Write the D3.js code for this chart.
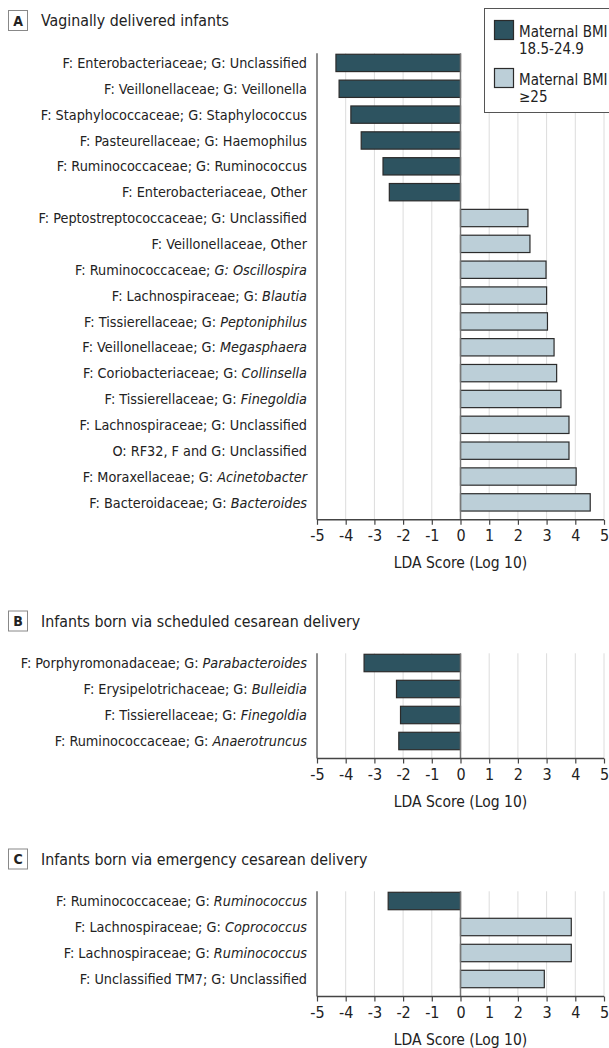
<!DOCTYPE html>
<html>
<head>
<meta charset="utf-8">
<script src="https://cdn.jsdelivr.net/npm/d3@7"></script>
<style>
  html, body { margin: 0; padding: 0; background: #fff; }
  svg { display: block; }
  text { font-family: "Liberation Sans Narrow", "DejaVu Sans Condensed", "Noto Sans", sans-serif; fill: #222; }
</style>
</head>
<body>
<svg id="chart" width="609" height="1048"></svg>
<script>
// ---- data ----
const panelTitles = ["Vaginally delivered infants", "Infants born via scheduled cesarean delivery", "Infants born via emergency cesarean delivery"];
const panelLetters = ["A", "B", "C"];

// label = [regular part, italic part]
const labelsA = [
  ["F: Enterobacteriaceae; G: Unclassified", ""],
  ["F: Veillonellaceae; G: Veillonella", ""],
  ["F: Staphylococcaceae; G: Staphylococcus", ""],
  ["F: Pasteurellaceae; G: Haemophilus", ""],
  ["F: Ruminococcaceae; G: Ruminococcus", ""],
  ["F: Enterobacteriaceae, Other", ""],
  ["F: Peptostreptococcaceae; G: Unclassified", ""],
  ["F: Veillonellaceae, Other", ""],
  ["F: Ruminococcaceae; ", "G: Oscillospira"],
  ["F: Lachnospiraceae; G: ", "Blautia"],
  ["F: Tissierellaceae; G: ", "Peptoniphilus"],
  ["F: Veillonellaceae; G: ", "Megasphaera"],
  ["F: Coriobacteriaceae; G: ", "Collinsella"],
  ["F: Tissierellaceae; G: ", "Finegoldia"],
  ["F: Lachnospiraceae; G: Unclassified", ""],
  ["O: RF32, F and G: Unclassified", ""],
  ["F: Moraxellaceae; G: ", "Acinetobacter"],
  ["F: Bacteroidaceae; G: ", "Bacteroides"]
];
const valuesA = [-4.34, -4.23, -3.82, -3.46, -2.70, -2.48, 2.35, 2.42, 2.98, 3.00, 3.03, 3.26, 3.35, 3.50, 3.78, 3.78, 4.03, 4.52];

const labelsB = [
  ["F: Porphyromonadaceae; G: ", "Parabacteroides"],
  ["F: Erysipelotrichaceae; G: ", "Bulleidia"],
  ["F: Tissierellaceae; G: ", "Finegoldia"],
  ["F: Ruminococcaceae; G: ", "Anaerotruncus"]
];
const valuesB = [-3.36, -2.23, -2.09, -2.15];

const labelsC = [
  ["F: Ruminococcaceae; G: ", "Ruminococcus"],
  ["F: Lachnospiraceae; G: ", "Coprococcus"],
  ["F: Lachnospiraceae; G: ", "Ruminococcus"],
  ["F: Unclassified TM7; G: Unclassified", ""]
];
const valuesC = [-2.52, 3.86, 3.86, 2.92];

const xTicks = [-5, -4, -3, -2, -1, 0, 1, 2, 3, 4, 5];
const xDomain = [-5, 5];
const axisTitle = "LDA Score (Log 10)";
const legendLabels = [["Maternal BMI", "18.5-24.9"], ["Maternal BMI", "\u226525"]];

// ---- styles ----
const darkFill = "#2d5360";
const lightFill = "#bccfd8";
const barStroke = "#2b2b2b";
const gridColor = "#dcdcdc";
const axisColor = "#666";

const svg = d3.select("#chart");
const x = d3.scaleLinear().domain(xDomain).range([317, 604]);

const panels = [
  { labels: labelsA, values: valuesA, top: 50, step: 25.85, titleY: 20.5 },
  { labels: labelsB, values: valuesB, top: 650, step: 26, titleY: 621 },
  { labels: labelsC, values: valuesC, top: 888, step: 26, titleY: 859 }
];

panels.forEach((p, pi) => {
  const g = svg.append("g");
  const n = p.labels.length;
  const keys = p.labels.map((d, i) => i);
  const y = d3.scaleBand().domain(keys).range([p.top, p.top + n * p.step]).paddingInner(0.33).paddingOuter(0.165);
  const axisY = p.top + n * p.step + 4.5;
  const axisTop = y(0) - 1;

  // title badge
  g.append("rect").attr("x", 8.5).attr("y", p.titleY - 10).attr("width", 19).attr("height", 20)
    .attr("fill", "#fff").attr("stroke", "#888").attr("stroke-width", 1);
  g.append("text").attr("x", 18).attr("y", p.titleY).attr("dy", "0.36em").attr("text-anchor", "middle")
    .attr("font-size", 14).attr("font-weight", "bold").text(panelLetters[pi]);
  g.append("text").attr("x", 41).attr("y", p.titleY).attr("dy", "0.36em")
    .attr("font-size", 15.8).text(panelTitles[pi]);

  // gridlines
  g.selectAll(".grid").data(xTicks.filter(t => t !== -5 && t !== 0)).join("line")
    .attr("x1", d => x(d)).attr("x2", d => x(d)).attr("y1", axisTop).attr("y2", axisY)
    .attr("stroke", gridColor).attr("stroke-width", 1);

  // bars
  g.selectAll(".bar").data(p.values).join("rect")
    .attr("x", d => x(Math.min(0, d)))
    .attr("width", d => Math.abs(x(d) - x(0)))
    .attr("y", (d, i) => y(i))
    .attr("height", y.bandwidth())
    .attr("fill", d => d < 0 ? darkFill : lightFill)
    .attr("stroke", barStroke).attr("stroke-width", 1.2);

  // zero line
  g.append("line").attr("x1", x(0)).attr("x2", x(0)).attr("y1", axisTop).attr("y2", axisY)
    .attr("stroke", "#777").attr("stroke-width", 1.5);

  // left axis line
  g.append("line").attr("x1", x(-5)).attr("x2", x(-5)).attr("y1", axisTop).attr("y2", axisY)
    .attr("stroke", axisColor).attr("stroke-width", 1.5);

  // labels
  const lab = g.selectAll(".lab").data(p.labels).join("text")
    .attr("x", 307).attr("y", (d, i) => y(i) + y.bandwidth() / 2).attr("dy", "0.36em")
    .attr("text-anchor", "end").attr("font-size", 14.3);
  lab.append("tspan").text(d => d[0]);
  lab.append("tspan").attr("font-style", "italic").text(d => d[1]);

  // x axis
  const axis = d3.axisBottom(x).tickValues(xTicks).tickSize(5).tickPadding(5)
    .tickFormat(d => d < 0 ? "-" + (-d) : String(d));
  const ax = g.append("g").attr("transform", `translate(0,${axisY})`).call(axis);
  ax.select(".domain").attr("stroke", "#444").attr("stroke-width", 1.5).attr("d", `M${x(-5)},0H${x(5)}`);
  ax.selectAll(".tick line").attr("stroke", "#444").attr("stroke-width", 1.2);
  ax.selectAll(".tick text").attr("font-size", 16).attr("fill", "#222")
    .attr("font-family", "\"Liberation Sans Narrow\", \"DejaVu Sans Condensed\", sans-serif");
  g.append("text").attr("x", x(0)).attr("y", axisY + 43).attr("dy", "0.36em").attr("text-anchor", "middle")
    .attr("font-size", 15.5).text(axisTitle);
});

// legend
const lg = svg.append("g");
lg.append("rect").attr("x", 484.5).attr("y", 8.5).attr("width", 130).attr("height", 104)
  .attr("fill", "#fff").attr("stroke", "#555").attr("stroke-width", 1);
const legendFills = [darkFill, lightFill];
const legendYs = [20.5, 68.5];
legendLabels.forEach((lbl, i) => {
  lg.append("rect").attr("x", 494.5).attr("y", legendYs[i]).attr("width", 19).attr("height", 19)
    .attr("fill", legendFills[i]).attr("stroke", barStroke).attr("stroke-width", 1.2);
  lg.append("text").attr("x", 519).attr("y", legendYs[i] + 11).attr("dy", "0.36em").attr("font-size", 15).text(lbl[0]);
  lg.append("text").attr("x", 519).attr("y", legendYs[i] + 28.5).attr("dy", "0.36em").attr("font-size", 15).text(lbl[1]);
});
</script>
</body>
</html>
